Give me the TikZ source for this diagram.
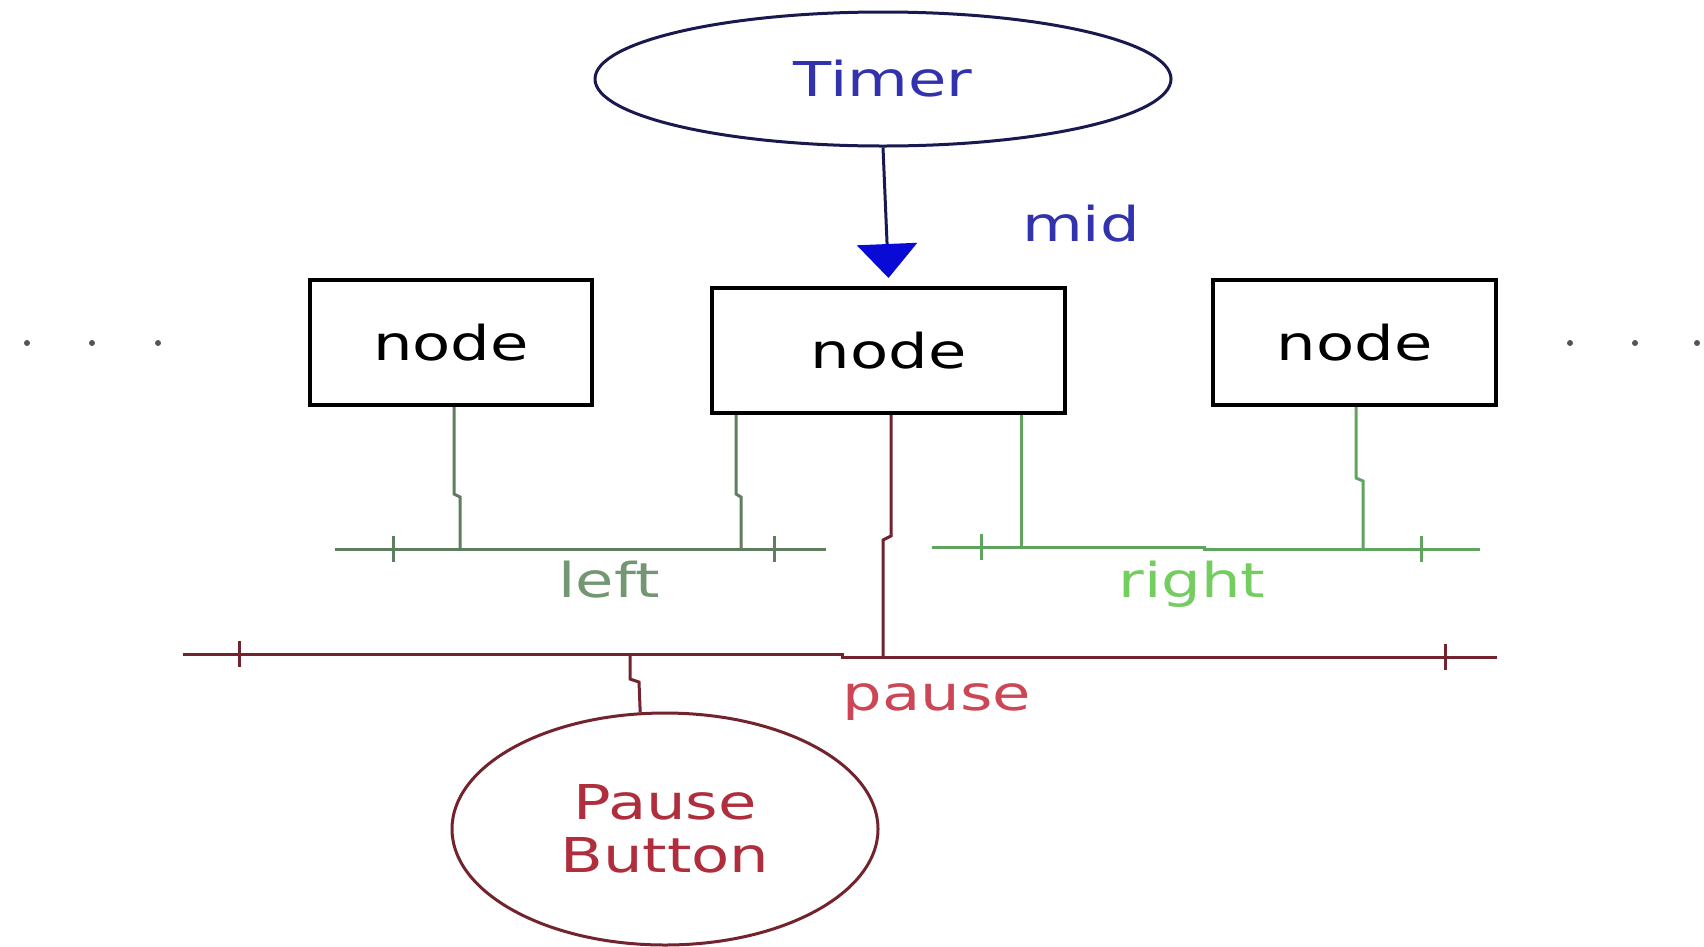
\documentclass[tikz,border=0pt]{standalone}
\usepackage{fontspec}
\newfontfamily\lblfont{DejaVu Sans}[FakeStretch=1.3]
\usetikzlibrary{shapes.geometric,arrows.meta}
\definecolor{navy}{RGB}{25,25,80}
\definecolor{timerblue}{RGB}{50,50,175}
\definecolor{tipblue}{RGB}{10,10,215}
\definecolor{leftgreen}{RGB}{95,125,95}
\definecolor{lefttext}{RGB}{115,150,115}
\definecolor{rightgreen}{RGB}{95,165,95}
\definecolor{righttext}{RGB}{115,205,95}
\definecolor{maroon}{RGB}{115,35,45}
\definecolor{pausetext}{RGB}{205,70,85}
\definecolor{buttontext}{RGB}{175,45,60}
\definecolor{dotgray}{RGB}{85,85,85}
\begin{document}
\begin{tikzpicture}[x=1pt,y=-1pt,
  txt/.style={font=\lblfont\fontsize{48}{53}\selectfont},
  nodebox/.style={draw=black,line width=4pt,minimum height=125pt,inner sep=0pt,txt},
  busleft/.style={leftgreen,line width=3pt},
  busright/.style={rightgreen,line width=3pt},
  buspause/.style={maroon,line width=3pt},
  dot/.style={fill=dotgray}]
\useasboundingbox (0,0) rectangle (1704,946);
\fill[white] (0,0) rectangle (1704,946);

% timer and the node row
\node[ellipse,draw=navy,line width=3pt,minimum width=576pt,minimum height=134pt,
      inner sep=0pt,txt,text=timerblue] (Timer) at (883,79) {Timer};
\node[nodebox,minimum width=282pt] (nL) at (451,342.5) {node};
\node[nodebox,minimum width=353pt] (nM) at (888.5,350.5) {node};
\node[nodebox,minimum width=283pt] (nR) at (1354.5,342.5) {node};
\node[txt,text=timerblue,anchor=base] (midlbl) at (1081,241) {mid};

\draw[navy,line width=3pt,
      -{Triangle[width=60pt,length=34pt,color=tipblue,fill=tipblue]}]
  (Timer.south) -- ([yshift=8pt]nM.north);

% continuation dots
\foreach \x in {27,92,158,1570,1635,1697}
  \fill[dot] (\x,343) circle (3pt);

% bus coordinates
\coordinate (lbW) at (335,549);  \coordinate (lbE) at (826,549);
\coordinate (lt1) at (460,549);  \coordinate (lt2) at (741,549);
\coordinate (rbW) at (932,547);  \coordinate (rbE) at (1480,549);
\coordinate (rt1) at (1021,547); \coordinate (rt2) at (1363,549);
\coordinate (pbW) at (183,654);  \coordinate (pbE) at (1497,657);
\coordinate (pt1) at (883,657);  \coordinate (pt2) at (630,654);

% left bus
\draw[busleft] (lbW) -- (lbE) (393,536) -- (393,562) (774,536) -- (774,562);
\draw[busleft] (454,0 |- nL.south) -- (454,494) -- (460,497) -- (lt1);
\draw[busleft] (736,0 |- nM.south) -- (736,494) -- (741,497) -- (lt2);
\node[txt,text=lefttext,anchor=base] (leftlbl) at (609,597) {left};

% right bus
\draw[busright] (rbW) -- (1204,547) -- (1204,549) -- (rbE)
  (981,534) -- (981,560) (1421,536) -- (1421,562);
\draw[busright] (1021,0 |- nM.south) -- (rt1);
\draw[busright] (1356,0 |- nR.south) -- (1356,478) -- (1363,481) -- (rt2);
\node[txt,text=righttext,anchor=base] (rightlbl) at (1192,597) {right};

% pause bus and button
\node[ellipse,draw=maroon,line width=3pt,minimum width=426pt,minimum height=232pt,
      inner sep=0pt,txt,text=buttontext,align=center] (pb) at (665,829) {Pause\\Button};
\draw[buspause] (pbW) -- (842,654) -- (842,657) -- (pbE)
  (239,641) -- (239,667) (1445,644) -- (1445,670);
\draw[buspause] (891,0 |- nM.south) -- (891,536) -- (883,540) -- (pt1);
\draw[buspause] (pt2) -- (630,679) -- (639,682) -- (pb.102);
\node[txt,text=pausetext,anchor=base] (pauselbl) at (937,710) {pause};
\end{tikzpicture}
\end{document}
